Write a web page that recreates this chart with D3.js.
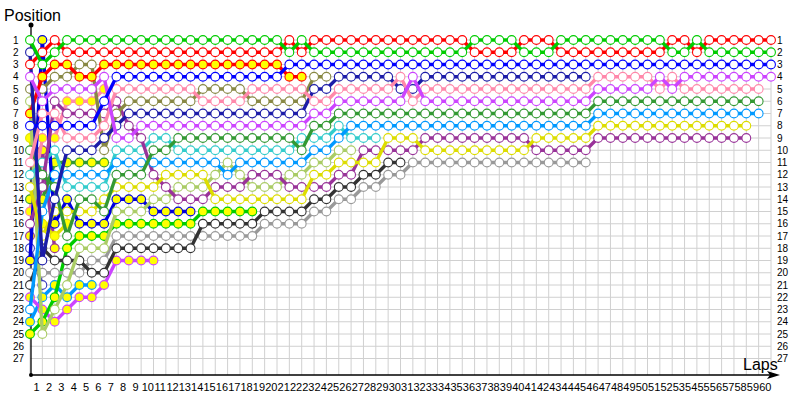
<!DOCTYPE html>
<html>
<head>
<meta charset="utf-8">
<script src="https://cdn.jsdelivr.net/npm/d3@7"></script>
<style>
  body { margin: 0; background: #fff; }
  svg text { font-family: "Liberation Sans", Arial, sans-serif; }
</style>
</head>
<body>
<svg id="chart" width="800" height="400"></svg>
<script>
// lap columns (0 = start) and labels
const laps = d3.range(0, 61);
const lapLabels = d3.range(1, 61);
const positions = d3.range(1, 28);

// each driver: [position, number of consecutive laps held], starting at lap 0
const greenRuns = [[1,1],[3,1],[2,1],[1,18],[2,1],[1,1],[2,13],[1,4],[2,3],[1,9],[2,2],[1,1],[2,6]];
const redRuns = [[3,1],[2,1],[1,1],[2,18],[1,1],[2,1],[1,13],[2,4],[1,3],[2,9],[1,2],[2,1],[1,6]];
const blueRuns = [[8,6],[6,1],[4,14],[3,40]];
const navyRuns = [[2,1],[19,1],[14,1],[10,3],[9,1],[8,1],[7,15],[5,2],[4,5],[5,2],[4,14]];
const redFilledRuns = [[7,1],[4,1],[3,2],[4,2],[3,15],[4,2]];
const oliveRuns = [[5,2],[4,2],[3,2],[10,1],[7,1],[6,6],[5,4],[6,5],[4,2]];
const violetRuns = [[4,1],[6,1],[5,4],[4,1],[9,2],[8,14],[7,2],[6,6],[4,1],[6,14],[5,5],[4,1],[5,1],[4,8]];
const pinkRuns = [[11,1],[7,2],[9,3],[8,1],[5,7],[6,4],[5,5],[6,2],[5,5],[4,1],[6,1],[5,14],[4,5],[5,1],[4,1],[5,7]];
const purpleRuns = [[16,1],[13,1],[6,1],[7,4],[6,1],[8,1],[9,1],[12,1],[13,1],[14,3],[13,3],[12,3],[13,4],[12,2],[10,5],[9,9],[10,5],[9,13]];
const forestRuns = [[10,1],[12,1],[13,1],[17,1],[14,2],[15,1],[12,3],[10,2],[9,10],[10,1],[8,2],[7,21],[6,14]];
const cyanRuns = [[12,1],[11,1],[10,1],[13,4],[10,3],[9,2],[10,10],[9,3],[8,1],[9,3]];
const skyRuns = [[23,1],[15,1],[12,5],[11,9],[12,1],[11,6],[10,2],[9,1],[8,20],[7,14]];
const yellowRuns = [[13,1],[17,1],[15,4],[14,1],[13,4],[12,4],[14,8],[12,2],[11,4],[9,3],[10,9],[9,5],[8,13]];
const limeRuns = [[6,1],[25,1],[23,1],[21,1],[18,3],[15,3],[14,2],[13,3],[12,1],[11,1],[12,1],[13,3],[12,2],[11,2],[10,2]];
const blueFilledRuns = [[19,1],[1,1],[16,1],[14,1],[16,3],[14,3],[15,4]];
const greenFilledRuns = [[25,1],[24,1],[22,1],[18,1],[17,3],[16,7],[15,5]];
const greyRuns = [[20,5],[19,2],[17,12],[16,4],[15,2],[14,2],[13,2],[12,2],[11,15]];
const blackRuns = [[21,1],[18,1],[19,3],[20,2],[18,7],[16,5],[15,4],[14,2],[13,2],[12,2],[11,2]];
const violetFilledRuns = [[22,1],[23,1],[24,1],[23,1],[22,2],[21,1],[19,4]];
const skyFilledRuns = [[24,1],[22,1],[21,1],[22,1],[21,2]];
const forestFilledRuns = [[14,2],[11,5]];
const pinkFilledRuns = [[15,1],[9,2],[6,3],[5,1]];
const yellowFilledRuns = [[9,1],[16,1],[17,1],[16,1]];
const purpleFilledRuns = [[17,1],[10,1],[18,1]];
const indigoRuns = [[18,1],[21,1]];

function expand(runs) {
  const out = [];
  runs.forEach(([p, n]) => { for (let i = 0; i < n; i++) out.push(p); });
  return out;
}

// draw order: back to front
const drivers = [
  { runs: indigoRuns, color: "#3a3ac0", fill: "#fff" },
  { runs: purpleFilledRuns, color: "#993399", fill: "#ffff00" },
  { runs: yellowFilledRuns, color: "#e0e000", fill: "#ffff00" },
  { runs: pinkFilledRuns, color: "#ff88aa", fill: "#ffff00" },
  { runs: forestFilledRuns, color: "#339933", fill: "#ffff00" },
  { runs: skyFilledRuns, color: "#0099ff", fill: "#ffff00" },
  { runs: violetFilledRuns, color: "#cc44ff", fill: "#ffff00" },
  { runs: blueFilledRuns, color: "#0000dd", fill: "#ffff00" },
  { runs: greenFilledRuns, color: "#00cc00", fill: "#ffff00" },
  { runs: greyRuns, color: "#999999", fill: "#fff" },
  { runs: blackRuns, color: "#333333", fill: "#fff" },
  { runs: limeRuns, color: "#aacc66", fill: "#fff" },
  { runs: cyanRuns, color: "#33cccc", fill: "#fff" },
  { runs: purpleRuns, color: "#993399", fill: "#fff" },
  { runs: yellowRuns, color: "#dddd00", fill: "#fff" },
  { runs: skyRuns, color: "#0099ff", fill: "#fff" },
  { runs: forestRuns, color: "#339933", fill: "#fff" },
  { runs: oliveRuns, color: "#888844", fill: "#fff" },
  { runs: redFilledRuns, color: "#ff0000", fill: "#ffff00" },
  { runs: navyRuns, color: "#1c1ca8", fill: "#fff" },
  { runs: pinkRuns, color: "#ff88aa", fill: "#fff" },
  { runs: violetRuns, color: "#cc44ff", fill: "#fff" },
  { runs: blueRuns, color: "#0000ff", fill: "#fff" },
  { runs: redRuns, color: "#ff0000", fill: "#fff" },
  { runs: greenRuns, color: "#00cc00", fill: "#fff" }
];

const svg = d3.select("#chart");
const x = d3.scaleLinear().domain([0, 60]).range([30, 771]);
const xLabel = d3.scaleLinear().domain([0.5, 60.5]).range([30, 771]);
const y = d3.scaleLinear().domain([1, 27]).range([40, 358.5]);
const axisY = 375;
const axisX = 31;

// grid
const grid = svg.append("g").attr("stroke", "#d0d0d0").attr("stroke-width", 1);
grid.selectAll(".v").data(laps).enter().append("line")
  .attr("x1", d => x(d)).attr("x2", d => x(d))
  .attr("y1", y(1) - 5).attr("y2", axisY);
grid.selectAll(".h").data(positions).enter().append("line")
  .attr("x1", x(0)).attr("x2", x(60))
  .attr("y1", d => y(d)).attr("y2", d => y(d));

// axes lines
svg.append("line").attr("x1", axisX).attr("x2", axisX).attr("y1", 25).attr("y2", axisY)
  .attr("stroke", "#000").attr("stroke-width", 1.3);
svg.append("line").attr("x1", axisX).attr("x2", 772).attr("y1", axisY).attr("y2", axisY)
  .attr("stroke", "#000").attr("stroke-width", 1.3);
svg.append("circle").attr("cx", axisX).attr("cy", 25).attr("r", 2.5).attr("fill", "#000");
svg.append("circle").attr("cx", axisX).attr("cy", axisY).attr("r", 2).attr("fill", "#000");
svg.append("path").attr("d", `M780,${axisY} L767,${axisY - 4} L770,${axisY} L767,${axisY + 4} Z`).attr("fill", "#000");

// tick labels
const bottom = svg.append("g").attr("transform", `translate(0,${axisY})`)
  .call(d3.axisBottom(xLabel).tickValues(lapLabels).tickSize(0).tickPadding(8).tickFormat(d3.format("d")));
bottom.select(".domain").remove();
bottom.selectAll("text").attr("font-size", 11).attr("fill", "#000")
  .style("font-family", '"Liberation Sans", Arial, sans-serif');

[13, 777].forEach(px => {
  const g = svg.append("g").attr("transform", `translate(${px},0)`)
    .call(d3.axisRight(y).tickValues(positions).tickSize(0).tickPadding(0).tickFormat(d3.format("d")));
  g.select(".domain").remove();
  g.selectAll("text").attr("font-size", 10).attr("fill", "#000")
    .style("font-family", '"Liberation Sans", Arial, sans-serif');
});

svg.append("text").attr("x", 4).attr("y", 21).attr("font-size", 16).text("Position");
svg.append("text").attr("x", 743).attr("y", 370).attr("font-size", 16).text("Laps");

// driver traces
const line = d3.line().x((d, i) => x(i)).y(d => y(d));
drivers.forEach(dr => {
  const vals = expand(dr.runs);
  const g = svg.append("g");
  g.append("path").attr("d", line(vals))
    .attr("fill", "none").attr("stroke", dr.color).attr("stroke-width", 3.4)
    .attr("stroke-linejoin", "round");
  g.selectAll("circle").data(vals).enter().append("circle")
    .attr("cx", (d, i) => x(i)).attr("cy", d => y(d)).attr("r", 4.4)
    .attr("fill", dr.fill).attr("stroke", dr.color).attr("stroke-width", 1.1);
});
</script>
</body>
</html>
